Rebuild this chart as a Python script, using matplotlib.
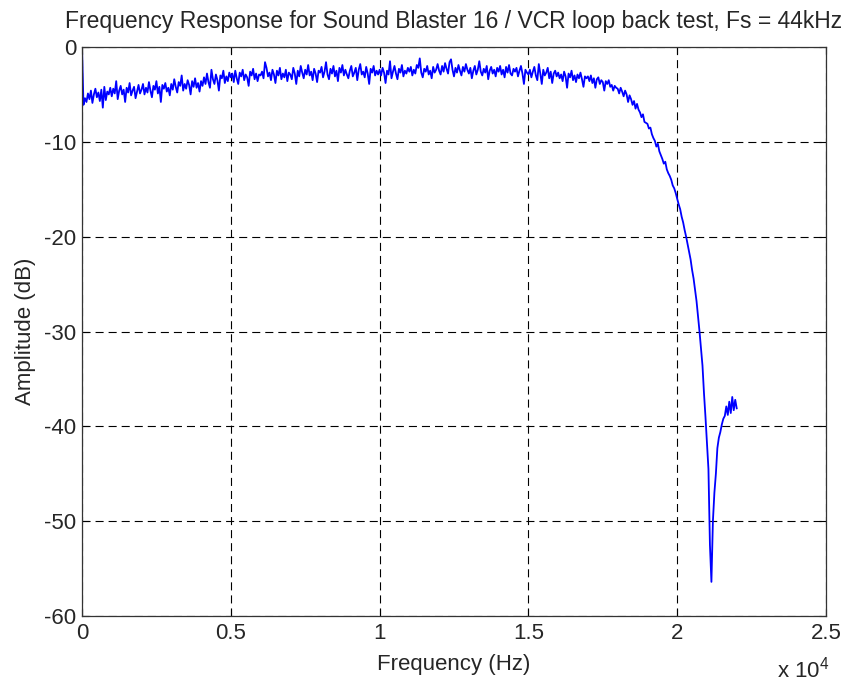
import numpy as np
import matplotlib
matplotlib.use('Agg')
import matplotlib.pyplot as plt

plt.rcParams['font.family'] = ['Liberation Sans', 'DejaVu Sans']
plt.rcParams['mathtext.fontset'] = 'custom'
plt.rcParams['mathtext.rm'] = 'Liberation Sans'
plt.rcParams['lines.scale_dashes'] = False
plt.rcParams['axes.unicode_minus'] = False

# frequency bins (Hz), 50 Hz apart, 0 .. 22000
freq = np.arange(0, 22001, 50)

# amplitude in dB, one row = 1 kHz
amp = [
    0.0, -6.1, -5.4, -5.8, -4.9, -5.5, -4.6, -5.9, -5.0, -4.4, -5.3, -4.8, -5.7, -4.5, -6.4, -4.2, -5.6, -4.7, -5.0, -4.3,
    -5.2, -4.4, -4.9, -3.6, -5.5, -4.6, -4.1, -5.0, -4.5, -5.8, -4.3, -4.8, -3.8, -5.1, -4.6, -4.2, -5.4, -4.7, -4.0, -4.9,
    -4.5, -3.9, -5.0, -4.3, -4.8, -3.7, -4.6, -5.3, -4.1, -4.5, -3.6, -4.9, -4.2, -5.8, -4.0, -4.4, -3.8, -4.7, -4.3, -5.1,
    -3.9, -4.5, -3.4, -4.2, -4.8, -3.7, -4.1, -3.0, -4.6, -3.9, -4.4, -3.5, -4.0, -5.0, -3.6, -4.2, -3.3, -4.3, -3.8, -4.7,
    -3.6, -4.1, -3.2, -3.9, -2.8, -3.7, -4.3, -2.4, -3.4, -3.9, -2.9, -3.5, -4.6, -3.0, -3.3, -2.5, -3.8, -3.1, -3.6, -2.7,
    -3.2, -2.8, -3.7, -2.5, -3.3, -3.9, -2.7, -3.1, -2.4, -3.5, -2.9, -3.2, -4.1, -2.6, -3.0, -2.3, -3.4, -2.8, -3.6, -2.9,
    -3.0, -2.6, -3.3, -1.6, -2.2, -3.1, -2.7, -3.5, -2.4, -2.9, -3.8, -2.5, -3.0, -2.2, -3.4, -2.8, -3.2, -2.4, -3.6, -2.7,
    -2.9, -3.4, -2.2, -2.8, -3.9, -2.5, -3.1, -2.0, -2.7, -3.3, -2.4, -2.9, -1.9, -3.0, -2.6, -3.5, -2.3, -2.8, -3.7, -2.5,
    -2.7, -2.1, -3.2, -2.6, -1.6, -2.9, -3.4, -2.3, -2.8, -2.0, -3.1, -2.5, -3.6, -2.2, -2.7, -1.9, -3.0, -2.4, -2.9, -3.3,
    -2.5, -2.0, -3.1, -2.7, -2.2, -3.5, -2.4, -1.8, -2.9, -2.6, -3.2, -2.1, -2.8, -3.9, -2.3, -2.7, -2.0, -3.0, -2.5, -2.9,
    -2.4, -3.0, -2.2, -2.7, -3.8, -2.5, -2.9, -1.5, -3.3, -2.6, -2.0, -2.8, -3.4, -2.3, -2.7, -1.9, -3.1, -2.5, -2.8, -2.2,
    -2.6, -2.1, -3.0, -2.4, -2.8, -1.9, -2.2, -1.2, -2.7, -3.2, -2.3, -2.6, -2.0, -2.9, -2.5, -3.3, -2.1, -2.7, -2.4, -1.8,
    -2.5, -2.9, -2.0, -2.6, -1.7, -2.3, -2.8, -1.6, -1.3, -2.4, -3.1, -2.2, -2.7, -1.9, -2.5, -3.0, -2.1, -2.6, -1.8, -2.4,
    -2.8, -2.2, -3.3, -2.5, -2.0, -2.9, -2.4, -1.5, -2.6, -3.0, -2.3, -2.7, -2.0, -3.4, -2.5, -2.1, -2.8, -2.4, -3.1, -2.2,
    -2.6, -2.0, -2.9, -2.4, -3.2, -2.1, -2.7, -1.9, -2.8, -3.0, -2.3, -2.6, -2.2, -3.1, -2.5, -2.0, -2.8, -3.9, -2.4, -2.7,
    -2.9, -2.4, -3.2, -2.6, -2.1, -3.0, -3.5, -1.8, -2.8, -3.9, -2.4, -3.0, -2.7, -2.2, -3.3, -2.6, -3.8, -2.8, -2.5, -3.1,
    -2.7, -3.3, -2.9, -3.6, -2.6, -3.1, -4.3, -2.8, -3.2, -2.5, -3.5, -3.0, -3.7, -2.9, -3.3, -2.7, -3.4, -4.2, -3.1, -3.3,
    -3.1, -3.6, -3.0, -3.8, -3.3, -4.3, -3.4, -3.2, -3.9, -3.5, -3.7, -4.6, -3.6, -3.9, -3.5, -4.2, -4.0, -4.6, -4.1, -4.3,
    -4.4, -4.9, -4.3, -4.7, -5.2, -4.6, -5.0, -5.8, -5.1, -5.5, -6.1, -5.7, -6.5, -6.0, -6.6, -6.9, -7.4, -7.1, -7.9, -8.0,
    -8.1, -8.6, -8.5, -9.2, -9.6, -9.9, -10.5, -10.2, -11.0, -11.4, -11.8, -12.3, -12.1, -12.9, -13.3, -13.6, -14.0, -14.6, -14.9, -15.4,
    -16.0, -16.6, -17.1, -17.9, -18.5, -19.3, -20.0, -20.8, -21.6, -22.4, -23.5, -24.4, -25.6, -26.8, -28.4, -30.0, -31.8, -33.6, -36.5, -39.0,
    -41.8, -44.5, -52.5, -56.4, -50.0, -47.0, -45.0, -42.3, -41.2, -40.6, -39.8, -39.2, -38.9, -37.9, -38.8, -37.4, -38.6, -36.9, -38.3, -37.2,
    -38.1,
]

xticks = [0, 5000, 10000, 15000, 20000, 25000]
xtick_labels = ['0', '0.5', '1', '1.5', '2', '2.5']
yticks = [0, -10, -20, -30, -40, -50, -60]

txt = '#262626'

fig = plt.figure(figsize=(8.47, 6.84), dpi=100)
ax = fig.add_axes([0.0968, 0.0994, 0.8784, 0.8319])

ax.plot(freq, amp, color='#0000ff', linewidth=1.3)

ax.set_xlim(0, 25000)
ax.set_ylim(-60, 0)
ax.set_xticks(xticks)
ax.set_xticklabels(xtick_labels)
ax.set_yticks(yticks)
ax.tick_params(direction='in', top=True, right=True, length=5, width=0.8,
               labelsize=16, pad=5, labelcolor=txt)
ax.tick_params(axis='y', pad=4)
for s in ax.spines.values():
    s.set_linewidth(0.9)
    s.set_color('#333333')

ax.grid(True, color='black', linestyle=(0, (5.8, 3.6)), linewidth=0.8)

ax.set_title('Frequency Response for Sound Blaster 16 / VCR loop back test, Fs = 44kHz',
             fontsize=16.5, pad=14, color=txt)
ax.set_xlabel('Frequency (Hz)', fontsize=16, labelpad=7, color=txt)
ax.set_ylabel('Amplitude (dB)', fontsize=16, labelpad=6, color=txt)
fig.text(0.948, 0.002, r'x 10$^{4}$', fontsize=16, ha='center', va='bottom', color=txt)

fig.savefig('out.png', dpi=100)
